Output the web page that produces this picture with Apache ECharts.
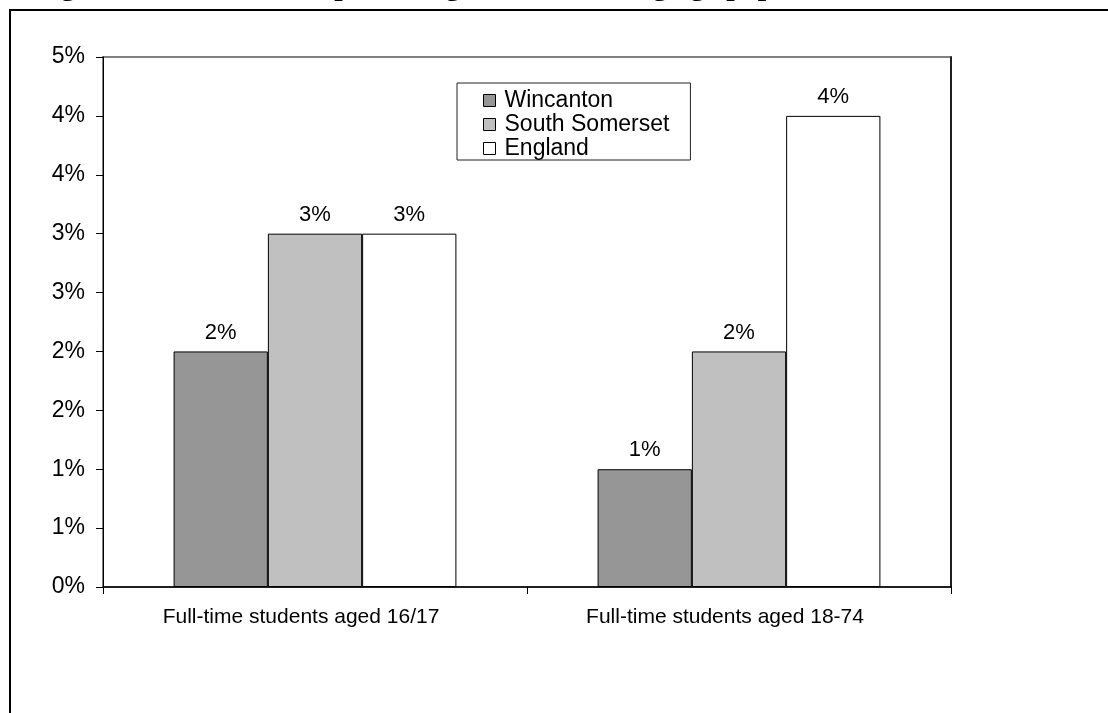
<!DOCTYPE html>
<html>
<head>
<meta charset="utf-8">
<script src="https://cdn.jsdelivr.net/npm/echarts@6/dist/echarts.min.js"></script>
<style>
  html, body { margin: 0; padding: 0; background: #fff; }
  #chart { width: 1108px; height: 713px; }
</style>
</head>
<body>
<div id="chart"></div>
<script>
// Share of population in full-time education (percent)
const categories = ['Full-time students aged 16/17', 'Full-time students aged 18-74'];
const seriesNames = ['Wincanton', 'South Somerset', 'England'];
const wincanton = [2, 1];
const southSomerset = [3, 2];
const england = [3, 4];
const titleText = 'Figure 4: Students as a percentage of the working age population';

const seriesValues = [wincanton, southSomerset, england];
const fills = ['#969696', '#C0C0C0', '#FFFFFF'];
const FONT = '"Liberation Sans", Arial, sans-serif';

const chart = echarts.init(document.getElementById('chart'), null, { renderer: 'canvas' });

chart.setOption({
  animation: false,
  backgroundColor: '#fff',
  textStyle: { fontFamily: FONT },
  graphic: [
    {
      type: 'rect', z: -10, silent: true,
      shape: { x: 10, y: 10, width: 1200, height: 800 },
      style: { fill: null, stroke: '#000', lineWidth: 2 }
    },
    {
      type: 'text', z: 10, silent: true,
      x: 34, y: -13,
      style: {
        text: titleText,
        font: 'bold 30px "Liberation Serif", "Times New Roman", serif',
        fill: '#000',
        verticalAlign: 'middle'
      }
    }
  ],
  grid: {
    left: 103, right: 157, top: 57, bottom: 126,
    show: true, borderColor: '#808080', borderWidth: 2, backgroundColor: 'transparent'
  },
  legend: {
    orient: 'vertical',
    left: 457, top: 83,
    padding: [6, 21, 0, 26],
    itemGap: 1,
    itemWidth: 12, itemHeight: 12,
    icon: 'rect',
    itemStyle: { borderColor: '#000', borderWidth: 1 },
    backgroundColor: '#fff',
    borderColor: '#222', borderWidth: 1,
    textStyle: { fontFamily: FONT, fontSize: 23, color: '#000', padding: [0, 0, 0, 4] },
    data: seriesNames
  },
  xAxis: {
    type: 'category',
    data: categories,
    axisLine: { lineStyle: { color: '#000', width: 1.5 } },
    axisTick: { show: true, length: 7, lineStyle: { color: '#000' } },
    axisLabel: {
      color: '#000', fontSize: 21, margin: 20, fontFamily: FONT,
      padding: [0, 28, 0, 0]
    },
    splitLine: { show: false }
  },
  yAxis: [
    {
      type: 'value',
      min: 0, max: 4.5, interval: 0.5,
      axisLine: { show: true, lineStyle: { color: '#000', width: 1 } },
      axisTick: { show: true, length: 7, lineStyle: { color: '#000' } },
      axisLabel: {
        color: '#000', fontSize: 23, margin: 18, fontFamily: FONT,
        formatter: v => Math.round(v) + '%'
      },
      splitLine: { show: false }
    },
    {
      type: 'value', position: 'right',
      min: 0, max: 4.5, interval: 0.5,
      axisLine: { show: true, lineStyle: { color: '#000', width: 1.5 } },
      axisTick: { show: false },
      axisLabel: { show: false },
      splitLine: { show: false }
    }
  ],
  series: seriesNames.map((name, i) => ({
    name,
    type: 'bar',
    yAxisIndex: 0,
    data: seriesValues[i],
    barGap: '0%',
    barCategoryGap: '33.3%',
    itemStyle: { color: fills[i], borderColor: '#000', borderWidth: 1 },
    label: {
      show: true, position: 'top', distance: 8,
      color: '#000', fontSize: 22, fontFamily: FONT,
      formatter: p => p.value + '%'
    }
  }))
});
</script>
</body>
</html>
